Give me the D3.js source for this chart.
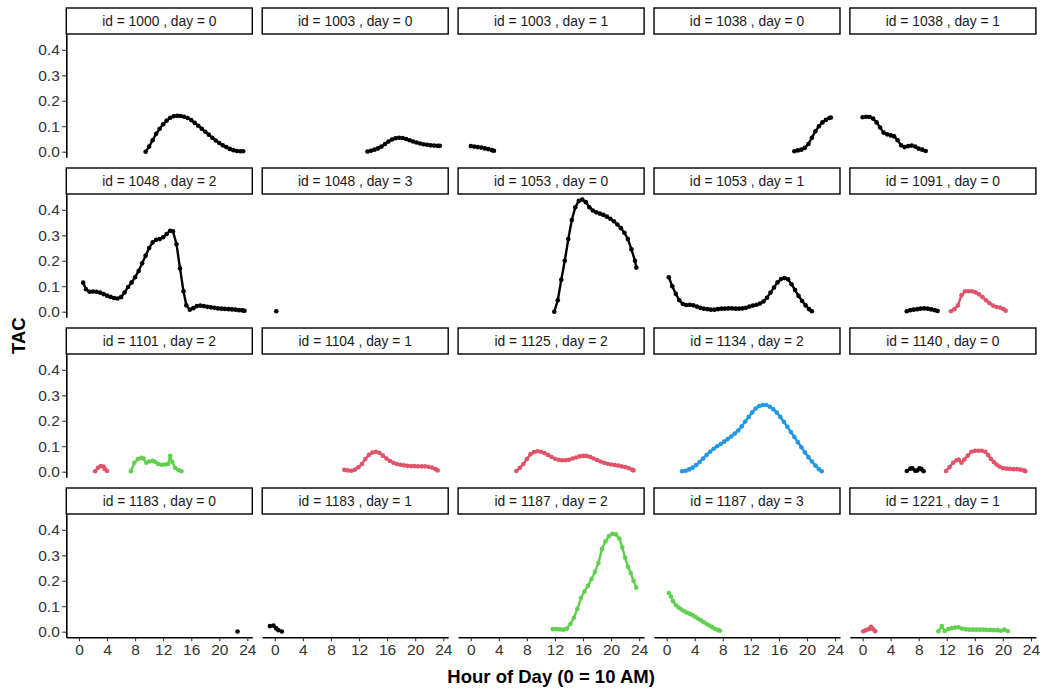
<!DOCTYPE html>
<html>
<head>
<meta charset="utf-8">
<script src="https://cdn.jsdelivr.net/npm/d3@7"></script>
<style>
  html, body { margin: 0; padding: 0; background: #fff; }
  svg { display: block; font-family: "Liberation Sans", Arial, sans-serif; }
</style>
</head>
<body>
<svg id="chart" width="1050" height="694"></svg>
<script>
// ---------------- DATA ----------------
const panelLabels = [
  "id = 1000 , day = 0", "id = 1003 , day = 0", "id = 1003 , day = 1", "id = 1038 , day = 0", "id = 1038 , day = 1",
  "id = 1048 , day = 2", "id = 1048 , day = 3", "id = 1053 , day = 0", "id = 1053 , day = 1", "id = 1091 , day = 0",
  "id = 1101 , day = 2", "id = 1104 , day = 1", "id = 1125 , day = 2", "id = 1134 , day = 2", "id = 1140 , day = 0",
  "id = 1183 , day = 0", "id = 1183 , day = 1", "id = 1187 , day = 2", "id = 1187 , day = 3", "id = 1221 , day = 1"
];
const xTicks = [0, 4, 8, 12, 16, 20, 24];
const yTicks = [0, 0.1, 0.2, 0.3, 0.4];
const xDataRange = [-0.6, 23.5];
const yDataRange = [0, 0.44];
const groupColor = { g1: "#000000", g2: "#DF536B", g3: "#61D04F", g4: "#2297E6" };

// each series: [hour, TAC]
const s1000_0 = [[9.5,0.0],[10,0.02],[10.5,0.045],[11,0.07],[11.5,0.09],[12,0.108],[12.5,0.122],[13,0.133],[13.5,0.139],[14,0.141],[14.5,0.14],[15,0.137],[15.5,0.132],[16,0.124],[16.5,0.113],[17,0.102],[17.5,0.09],[18,0.078],[18.5,0.067],[19,0.055],[19.5,0.044],[20,0.034],[20.5,0.025],[21,0.018],[21.5,0.011],[22,0.006],[22.5,0.003],[23,0.002],[23.4,0.002]];
const s1003_0 = [[13.2,0.001],[13.7,0.004],[14.2,0.008],[14.7,0.013],[15.2,0.02],[15.7,0.03],[16.2,0.04],[16.7,0.048],[17.2,0.053],[17.7,0.055],[18.2,0.054],[18.7,0.05],[19.2,0.045],[19.7,0.04],[20.2,0.036],[20.7,0.032],[21.2,0.029],[21.7,0.027],[22.2,0.025],[22.7,0.024],[23.2,0.023],[23.5,0.023]];
const s1003_1 = [[0,0.022],[0.5,0.02],[1,0.018],[1.5,0.016],[2,0.013],[2.5,0.01],[3,0.006],[3.3,0.004]];
const s1038_0 = [[18.2,0.002],[18.7,0.005],[19.2,0.008],[19.7,0.015],[20.2,0.03],[20.7,0.055],[21.2,0.08],[21.7,0.1],[22.2,0.115],[22.7,0.125],[23.2,0.132],[23.4,0.134]];
const s1038_1 = [[0,0.135],[0.5,0.137],[1,0.136],[1.5,0.13],[2,0.115],[2.5,0.095],[3,0.075],[3.5,0.068],[4,0.064],[4.5,0.06],[5,0.045],[5.5,0.025],[6,0.018],[6.5,0.022],[7,0.024],[7.5,0.02],[8,0.012],[8.5,0.008],[9,0.003]];
const s1048_2 = [[0.6,0.114],[1,0.088],[1.5,0.078],[2,0.079],[2.5,0.078],[3,0.075],[3.5,0.069],[4,0.063],[4.5,0.058],[5,0.054],[5.5,0.052],[6,0.057],[6.5,0.075],[7,0.097],[7.5,0.115],[8,0.135],[8.5,0.16],[9,0.19],[9.5,0.22],[10,0.25],[10.5,0.272],[11,0.282],[11.5,0.285],[12,0.292],[12.5,0.305],[13,0.318],[13.4,0.316],[13.9,0.265],[14.4,0.17],[14.9,0.08],[15.3,0.025],[15.8,0.008],[16.3,0.014],[16.8,0.022],[17.3,0.024],[17.8,0.022],[18.3,0.019],[18.8,0.017],[19.3,0.015],[19.8,0.013],[20.3,0.012],[20.8,0.011],[21.3,0.01],[21.8,0.009],[22.3,0.008],[22.8,0.006],[23.3,0.005],[23.6,0.004]];
const s1048_3 = [[0.2,0.002]];
const s1053_0 = [[11.9,0.0],[12.4,0.045],[12.9,0.125],[13.4,0.2],[13.9,0.285],[14.4,0.36],[14.9,0.41],[15.4,0.435],[15.9,0.44],[16.4,0.43],[16.9,0.41],[17.4,0.397],[17.9,0.39],[18.4,0.385],[18.9,0.38],[19.4,0.373],[19.9,0.365],[20.4,0.355],[20.9,0.342],[21.4,0.328],[21.9,0.31],[22.4,0.285],[22.9,0.245],[23.4,0.2],[23.6,0.173]];
const s1053_1 = [[0.3,0.135],[0.8,0.1],[1.3,0.07],[1.8,0.045],[2.3,0.03],[2.8,0.026],[3.3,0.027],[3.8,0.025],[4.3,0.02],[4.8,0.015],[5.3,0.012],[5.8,0.01],[6.3,0.008],[6.8,0.008],[7.3,0.01],[7.8,0.012],[8.3,0.012],[8.8,0.013],[9.3,0.013],[9.8,0.012],[10.3,0.012],[10.8,0.013],[11.3,0.015],[11.8,0.02],[12.3,0.024],[12.8,0.027],[13.3,0.032],[13.8,0.04],[14.3,0.055],[14.8,0.075],[15.3,0.095],[15.8,0.115],[16.3,0.128],[16.8,0.132],[17.3,0.127],[17.8,0.108],[18.3,0.085],[18.8,0.062],[19.3,0.042],[19.8,0.025],[20.3,0.01],[20.7,0.002]];
const s1091_0a = [[6.3,0.002],[6.8,0.006],[7.3,0.008],[7.8,0.01],[8.3,0.012],[8.8,0.013],[9.3,0.012],[9.8,0.009],[10.3,0.006],[10.7,0.003]];
const s1091_0b = [[12.6,0.002],[13.1,0.01],[13.6,0.025],[14.1,0.065],[14.6,0.08],[15.1,0.08],[15.6,0.08],[16.1,0.076],[16.6,0.068],[17.1,0.057],[17.6,0.045],[18.1,0.033],[18.6,0.024],[19.1,0.018],[19.6,0.016],[20.1,0.01],[20.4,0.004]];
const s1101_2a = [[2.3,0.002],[2.7,0.015],[3.1,0.022],[3.5,0.02],[3.7,0.01],[4.0,0.003]];
const s1101_2b = [[7.4,0.002],[7.9,0.035],[8.4,0.05],[8.9,0.055],[9.2,0.052],[9.6,0.035],[10.0,0.04],[10.5,0.043],[10.9,0.038],[11.3,0.03],[11.8,0.027],[12.3,0.028],[12.7,0.03],[13.0,0.062],[13.3,0.038],[13.7,0.015],[14.2,0.006],[14.6,0.002]];
const s1104_1 = [[9.9,0.007],[10.4,0.005],[10.9,0.004],[11.4,0.008],[11.9,0.017],[12.4,0.03],[12.9,0.05],[13.4,0.066],[13.9,0.075],[14.4,0.078],[14.9,0.074],[15.4,0.063],[15.9,0.052],[16.4,0.042],[16.9,0.035],[17.4,0.03],[17.9,0.027],[18.4,0.025],[18.9,0.023],[19.4,0.022],[19.9,0.022],[20.4,0.021],[20.9,0.021],[21.4,0.021],[21.9,0.019],[22.4,0.016],[22.9,0.01],[23.2,0.005]];
const s1125_2 = [[6.5,0.003],[7,0.015],[7.5,0.03],[8,0.05],[8.5,0.068],[9,0.077],[9.5,0.08],[10,0.078],[10.5,0.073],[11,0.066],[11.5,0.058],[12,0.051],[12.5,0.047],[13,0.045],[13.5,0.045],[14,0.047],[14.5,0.052],[15,0.056],[15.5,0.06],[16,0.062],[16.5,0.062],[17,0.058],[17.5,0.052],[18,0.046],[18.5,0.04],[19,0.035],[19.5,0.031],[20,0.028],[20.5,0.026],[21,0.024],[21.5,0.021],[22,0.018],[22.5,0.014],[23,0.008],[23.2,0.005]];
const s1134_2 = [[2.2,0.002],[2.7,0.004],[3.2,0.009],[3.7,0.016],[4.2,0.026],[4.7,0.038],[5.2,0.052],[5.7,0.066],[6.2,0.078],[6.7,0.09],[7.2,0.1],[7.7,0.109],[8.2,0.118],[8.7,0.128],[9.2,0.138],[9.7,0.15],[10.2,0.162],[10.7,0.178],[11.2,0.197],[11.7,0.215],[12.2,0.233],[12.7,0.248],[13.2,0.258],[13.7,0.262],[14.2,0.262],[14.7,0.255],[15.2,0.245],[15.7,0.232],[16.2,0.215],[16.7,0.196],[17.2,0.176],[17.7,0.156],[18.2,0.136],[18.7,0.116],[19.2,0.096],[19.7,0.076],[20.2,0.057],[20.7,0.04],[21.2,0.024],[21.7,0.01],[22.1,0.002]];
const s1140_0a = [[6.3,0.003],[6.8,0.012],[7.1,0.013],[7.5,0.004],[7.8,0.005],[8.1,0.013],[8.4,0.01],[8.7,0.002]];
const s1140_0b = [[11.9,0.003],[12.4,0.018],[12.9,0.035],[13.4,0.045],[13.7,0.048],[14.1,0.035],[14.5,0.048],[15,0.063],[15.5,0.078],[16,0.082],[16.5,0.082],[17,0.082],[17.5,0.078],[17.9,0.065],[18.3,0.05],[18.7,0.038],[19.1,0.028],[19.5,0.02],[20,0.014],[20.5,0.012],[21,0.011],[21.5,0.01],[22,0.01],[22.5,0.008],[23,0.005],[23.2,0.002]];
const s1183_0 = [[22.6,0.001]];
const s1183_1 = [[-0.7,0.022],[-0.2,0.024],[0.2,0.013],[0.5,0.006],[1.0,0.001]];
const s1187_2 = [[11.7,0.01],[12.2,0.01],[12.7,0.009],[13.2,0.008],[13.7,0.012],[14.2,0.03],[14.7,0.055],[15.2,0.09],[15.7,0.132],[16.2,0.158],[16.7,0.18],[17.2,0.207],[17.7,0.235],[18.2,0.27],[18.7,0.325],[19.2,0.355],[19.7,0.375],[20.2,0.384],[20.7,0.382],[21.2,0.365],[21.6,0.33],[22,0.29],[22.4,0.255],[22.8,0.23],[23.2,0.2],[23.6,0.173]];
const s1187_3 = [[0.3,0.152],[0.6,0.138],[0.9,0.12],[1.3,0.105],[1.7,0.095],[2.1,0.087],[2.5,0.08],[2.9,0.075],[3.3,0.07],[3.7,0.065],[4.1,0.058],[4.5,0.051],[4.9,0.045],[5.3,0.037],[5.7,0.03],[6.1,0.024],[6.5,0.017],[6.9,0.011],[7.3,0.007],[7.6,0.004]];
const s1221_1a = [[0.1,0.002],[0.5,0.006],[0.9,0.01],[1.2,0.019],[1.5,0.01],[1.8,0.002]];
const s1221_1b = [[10.8,0.002],[11.3,0.022],[11.7,0.003],[12.2,0.01],[12.7,0.014],[13.2,0.016],[13.7,0.017],[14.2,0.012],[14.7,0.009],[15.2,0.008],[15.7,0.008],[16.2,0.008],[16.7,0.008],[17.2,0.008],[17.7,0.007],[18.2,0.007],[18.7,0.006],[19.2,0.006],[19.7,0.004],[20.2,0.008],[20.7,0.003]];

// series per panel: [group, data]
const panelSeries = [
  [["g1", s1000_0]], [["g1", s1003_0]], [["g1", s1003_1]], [["g1", s1038_0]], [["g1", s1038_1]],
  [["g1", s1048_2]], [["g1", s1048_3]], [["g1", s1053_0]], [["g1", s1053_1]], [["g1", s1091_0a], ["g2", s1091_0b]],
  [["g2", s1101_2a], ["g3", s1101_2b]], [["g2", s1104_1]], [["g2", s1125_2]], [["g4", s1134_2]], [["g1", s1140_0a], ["g2", s1140_0b]],
  [["g1", s1183_0]], [["g1", s1183_1]], [["g3", s1187_2]], [["g3", s1187_3]], [["g2", s1221_1a], ["g3", s1221_1b]]
];

// ---------------- LAYOUT ----------------
const nCol = 5, nRow = 4;
const left0 = 66.3, colPitch = 195.9, pw = 186;
const top0 = 8, stripH = 26, ph = 123.3, rowPitch = 160;

const xw = xDataRange[1] - xDataRange[0];
const yw = yDataRange[1] - yDataRange[0];
const x = d3.scaleLinear().domain([xDataRange[0] - 0.05 * xw, xDataRange[1] + 0.05 * xw]).range([0, pw]);
const y = d3.scaleLinear().domain([yDataRange[0] - 0.05 * yw, yDataRange[1] + 0.05 * yw]).range([ph, 0]);

const svg = d3.select("#chart");
svg.append("rect").attr("width", 1050).attr("height", 694).attr("fill", "#fff");

const line = d3.line().x(d => x(d[0])).y(d => y(d[1]));

panelLabels.forEach((label, i) => {
  const col = i % nCol, row = Math.floor(i / nCol);
  const g = svg.append("g")
    .attr("transform", `translate(${left0 + col * colPitch},${top0 + row * rowPitch + stripH})`);

  // strip
  g.append("rect").attr("x", 0).attr("y", -stripH).attr("width", pw).attr("height", stripH)
    .attr("fill", "#fff").attr("stroke", "#000").attr("stroke-width", 1.4);
  g.append("text").attr("x", pw / 2).attr("y", -stripH / 2).attr("dy", "0.36em")
    .attr("text-anchor", "middle").attr("font-size", 13.8).attr("fill", "#1a1a1a").text(label);

  // axes
  if (col === 0) {
    const ay = g.append("g").call(d3.axisLeft(y).tickValues(yTicks).tickFormat(d3.format(".1f")).tickSize(4).tickSizeOuter(0).tickPadding(2.5));
    ay.select(".domain").attr("stroke", "#000").attr("stroke-width", 1.6);
    ay.selectAll(".tick line").attr("stroke", "#333").attr("stroke-width", 1.1);
    ay.selectAll(".tick text").attr("font-size", 15.5).attr("fill", "#333").attr("font-family", "Liberation Sans, Arial, sans-serif");
  }
  if (row === nRow - 1) {
    const ax = g.append("g").attr("transform", `translate(0,${ph})`)
      .call(d3.axisBottom(x).tickValues(xTicks).tickFormat(d3.format("d")).tickSize(4).tickSizeOuter(0).tickPadding(2.5));
    ax.select(".domain").attr("stroke", "#000").attr("stroke-width", 1.6);
    ax.selectAll(".tick line").attr("stroke", "#333").attr("stroke-width", 1.1);
    ax.selectAll(".tick text").attr("font-size", 15.5).attr("fill", "#333").attr("font-family", "Liberation Sans, Arial, sans-serif");
  }

  // series
  panelSeries[i].forEach(([grp, data]) => {
    const c = groupColor[grp];
    if (data.length > 1) {
      g.append("path").datum(data).attr("d", line).attr("fill", "none")
        .attr("stroke", c).attr("stroke-width", 2.4).attr("stroke-linejoin", "round").attr("stroke-linecap", "round");
    }
    g.selectAll(null).data(data).enter().append("circle")
      .attr("cx", d => x(d[0])).attr("cy", d => y(d[1])).attr("r", 2.3).attr("fill", c);
  });
});

// axis titles
const panelsLeft = left0, panelsRight = left0 + (nCol - 1) * colPitch + pw;
svg.append("text").attr("x", (panelsLeft + panelsRight) / 2).attr("y", 683)
  .attr("text-anchor", "middle").attr("font-size", 18.5).attr("font-weight", "bold").attr("fill", "#000")
  .text("Hour of Day (0 = 10 AM)");
const panelsTop = top0 + stripH, panelsBottom = top0 + (nRow - 1) * rowPitch + stripH + ph;
svg.append("text").attr("transform", `translate(25,${(panelsTop + panelsBottom) / 2}) rotate(-90)`)
  .attr("text-anchor", "middle").attr("font-size", 18.5).attr("font-weight", "bold").attr("fill", "#000")
  .text("TAC");
</script>
</body>
</html>
